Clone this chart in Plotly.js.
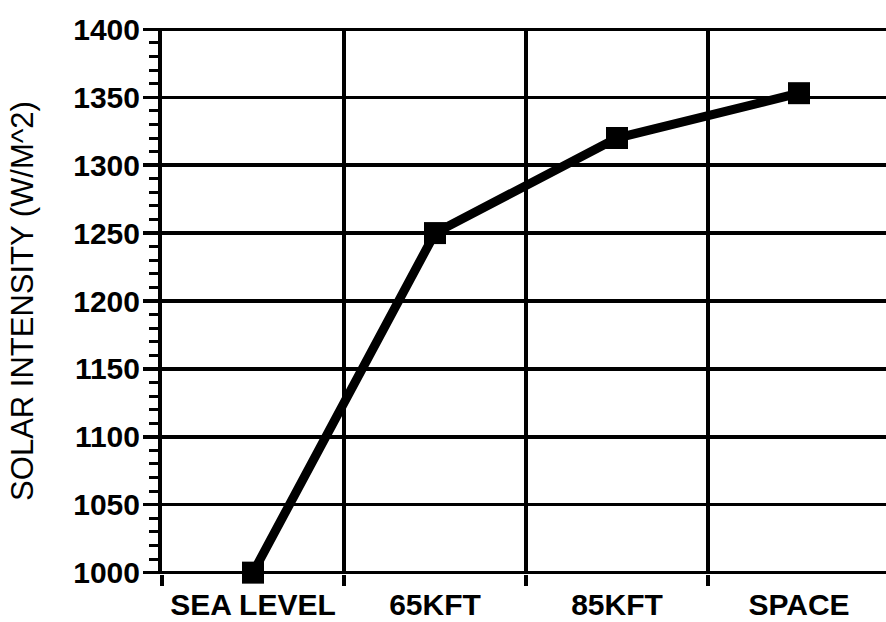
<!DOCTYPE html>
<html>
<head>
<meta charset="utf-8">
<script src="https://cdn.plot.ly/plotly-3.0.1.min.js"></script>
<style>html,body{margin:0;padding:0;background:#fff;}#chart{width:886px;height:622px;}</style>
</head>
<body>
<div id="chart"></div>
<script>
const categories = ["SEA LEVEL", "65KFT", "85KFT", "SPACE"];
const intensity = [1000, 1250, 1320, 1353];
const yTicks = [1000, 1050, 1100, 1150, 1200, 1250, 1300, 1350, 1400];

const trace = {
  x: categories,
  y: intensity,
  type: "scatter",
  mode: "lines+markers",
  line: {color: "#000", width: 9},
  marker: {symbol: "square", size: 22, color: "#000"},
  cliponaxis: false,
  hoverinfo: "skip"
};

const layout = {
  width: 886, height: 622,
  margin: {l: 162, r: 0, t: 28, b: 48},
  paper_bgcolor: "#fff", plot_bgcolor: "#fff",
  showlegend: false,
  font: {family: "Liberation Sans, Arial, sans-serif", color: "#000"},
  xaxis: {
    type: "category",
    range: [-0.5, 3.478],
    tickson: "boundaries",
    ticks: "outside", ticklen: 11, tickwidth: 3.5, tickcolor: "#000",
    showgrid: true, gridcolor: "#000", gridwidth: 3.5,
    showline: false,
    zeroline: false,
    tickfont: {size: 30, family: "Liberation Sans, Arial, sans-serif", weight: "bold"},
    ticklabelstandoff: 10
  },
  yaxis: {
    range: [999, 1401],
    tickvals: yTicks,
    ticktext: yTicks.map(String),
    ticks: "outside", ticklen: 15, tickwidth: 3.5, tickcolor: "#000",
    minor: {dtick: 10, tick0: 1000, ticks: "outside", ticklen: 9, tickwidth: 3, tickcolor: "#000", showgrid: false},
    showgrid: true, gridcolor: "#000", gridwidth: 3.5,
    showline: true, linecolor: "#000", linewidth: 4,
    zeroline: false,
    tickfont: {size: 30, family: "Liberation Sans, Arial, sans-serif", weight: "bold"},
    ticklabelstandoff: -3,
    title: {text: "SOLAR INTENSITY (W/M^2)", font: {size: 31, family: "Liberation Sans, Arial, sans-serif"}, standoff: 31}
  }
};

Plotly.newPlot("chart", [trace], layout, {displayModeBar: false, staticPlot: true});
</script>
</body>
</html>
